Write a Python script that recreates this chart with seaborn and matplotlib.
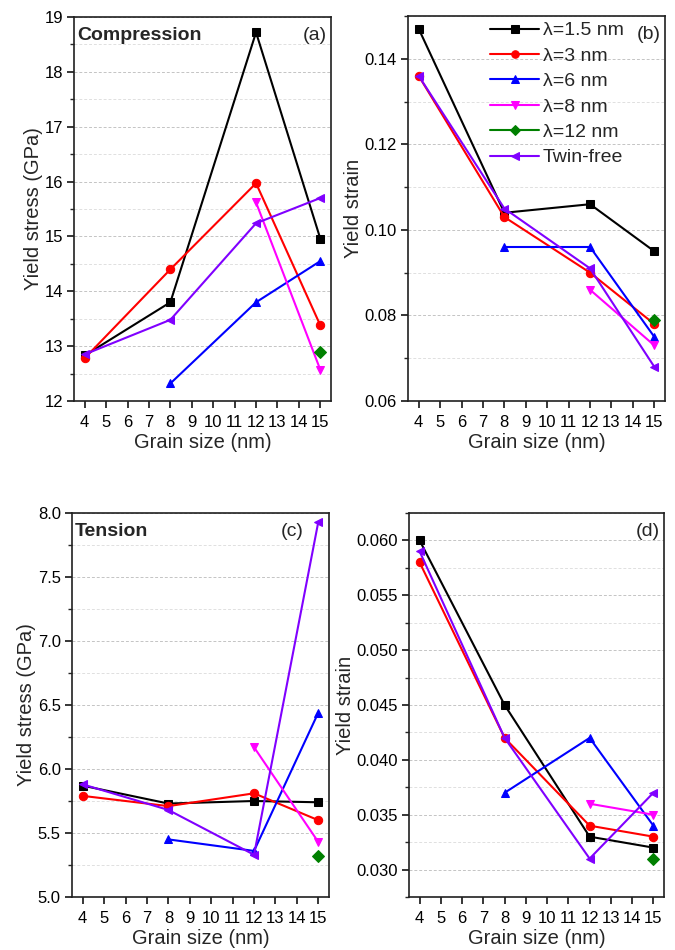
import numpy as np
import pandas as pd
import matplotlib
matplotlib.use("Agg")
import matplotlib.pyplot as plt
import seaborn as sns
from matplotlib.ticker import MultipleLocator, FormatStrFormatter

# grain sizes (nm)
grain = [4, 8, 12, 15]
series_names = ["λ=1.5 nm", "λ=3 nm", "λ=6 nm", "λ=8 nm", "λ=12 nm", "Twin-free"]
colors = ["#000000", "#ff0000", "#0000ff", "#ff00ff", "#008000", "#8000ff"]
markers = ["s", "o", "^", "v", "D", "<"]
nan = np.nan

# (a) compression yield stress (GPa)
comp_stress = [
    [12.83, 13.80, 18.72, 14.96],
    [12.78, 14.40, 15.97, 13.38],
    [nan, 12.32, 13.80, 14.55],
    [nan, nan, 15.62, 12.57],
    [nan, nan, nan, 12.90],
    [12.85, 13.48, 15.24, 15.70],
]
# (b) compression yield strain
comp_strain = [
    [0.147, 0.104, 0.106, 0.095],
    [0.136, 0.103, 0.090, 0.078],
    [nan, 0.096, 0.096, 0.075],
    [nan, nan, 0.086, 0.073],
    [nan, nan, nan, 0.079],
    [0.136, 0.105, 0.091, 0.068],
]
# (c) tension yield stress (GPa)
tens_stress = [
    [5.87, 5.73, 5.75, 5.74],
    [5.79, 5.71, 5.81, 5.60],
    [nan, 5.45, 5.36, 6.44],
    [nan, nan, 6.17, 5.43],
    [nan, nan, nan, 5.32],
    [5.88, 5.68, 5.33, 7.93],
]
# (d) tension yield strain
tens_strain = [
    [0.060, 0.045, 0.033, 0.032],
    [0.058, 0.042, 0.034, 0.033],
    [nan, 0.037, 0.042, 0.034],
    [nan, nan, 0.036, 0.035],
    [nan, nan, nan, 0.031],
    [0.059, 0.042, 0.031, 0.037],
]

sns.set_theme(style="ticks")
plt.rcParams["font.family"] = ["Liberation Sans", "DejaVu Sans"]
plt.rcParams["axes.linewidth"] = 1.2

fig = plt.figure(figsize=(6.75, 9.5), dpi=100)
W, H = 675.0, 950.0


def make_axes(l, t, r, b):
    return fig.add_axes([l / W, 1 - b / H, (r - l) / W, (b - t) / H])


panels = [
    dict(ax=make_axes(74, 17, 331, 401), data=comp_stress, ylim=(12, 19), major=1, minor=0.5,
         fmt="%d", ylabel="Yield stress (GPa)", tag="(a)", tagx=0.985, title="Compression"),
    dict(ax=make_axes(408, 16, 665, 401), data=comp_strain, ylim=(0.06, 0.15), major=0.02, minor=0.01,
         fmt="%.2f", ylabel="Yield strain", tag="(b)", tagx=0.985, title=None),
    dict(ax=make_axes(72, 513, 329, 897), data=tens_stress, ylim=(5.0, 8.0), major=0.5, minor=0.25,
         fmt="%.1f", ylabel="Yield stress (GPa)", tag="(c)", tagx=0.90, title="Tension"),
    dict(ax=make_axes(409, 513, 664, 897), data=tens_strain, ylim=(0.0275, 0.0625), major=0.005, minor=0.0025,
         fmt="%.3f", ylabel="Yield strain", tag="(d)", tagx=0.985, title=None),
]

for p in panels:
    ax = p["ax"]
    ax.set_axisbelow(True)
    for name, vals, c, m in zip(series_names, p["data"], colors, markers):
        df = pd.DataFrame({"grain": grain, "val": vals}).dropna()
        sns.lineplot(data=df, x="grain", y="val", ax=ax, color=c, marker=m, markersize=6,
                     markeredgecolor=c, linewidth=1.5, label=name, legend=False)
    ax.set_xlim(3.5, 15.5)
    ax.set_ylim(*p["ylim"])
    ax.xaxis.set_major_locator(MultipleLocator(1))
    ax.yaxis.set_major_locator(MultipleLocator(p["major"]))
    ax.yaxis.set_minor_locator(MultipleLocator(p["minor"]))
    ax.yaxis.set_major_formatter(FormatStrFormatter(p["fmt"]))
    ax.grid(True, axis="y", which="major", color="#c4c4c4", linestyle=(0, (3, 2)), linewidth=0.7)
    ax.grid(True, axis="y", which="minor", color="#e0e0e0", linestyle=(0, (3, 2)), linewidth=0.7)
    ax.tick_params(axis="both", which="major", direction="out", length=5, width=1.1, labelsize=12,
                   pad=3, colors="#000000")
    ax.tick_params(axis="x", which="major", pad=5)
    ax.tick_params(axis="y", which="minor", direction="out", length=3, width=1.0)
    for s in ax.spines.values():
        s.set_color("#202020")
        s.set_visible(True)
    ax.set_xlabel("Grain size (nm)", fontsize=14.5, labelpad=2)
    ax.set_ylabel(p["ylabel"], fontsize=14.5, labelpad=1)
    ax.text(p["tagx"], 0.975, p["tag"], transform=ax.transAxes, ha="right", va="top", fontsize=14)
    if p["title"]:
        ax.text(0.012, 0.975, p["title"], transform=ax.transAxes, ha="left", va="top",
                fontsize=14, fontweight="bold")

leg = panels[1]["ax"].legend(loc="upper left", bbox_to_anchor=(0.32, 0.985), frameon=False,
                             fontsize=14, handlelength=2.5, handletextpad=0.2, labelspacing=0.4,
                             borderpad=0, borderaxespad=0, markerscale=0.9)

fig.savefig("out.png", dpi=100)
